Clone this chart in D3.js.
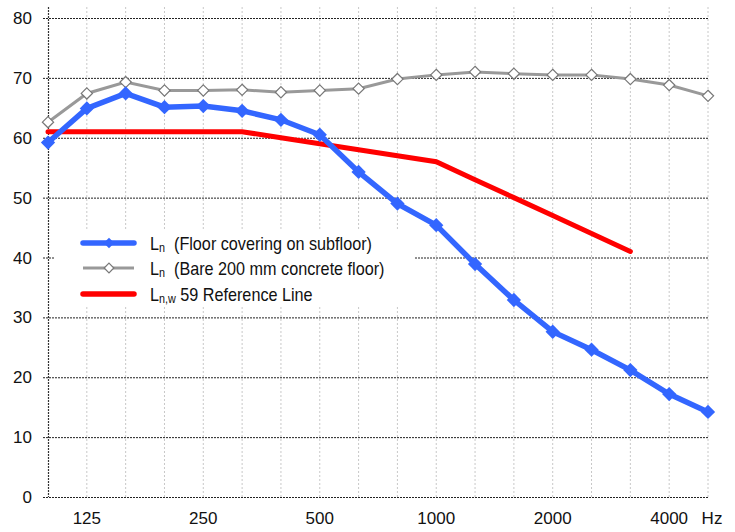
<!DOCTYPE html>
<html>
<head>
	<meta charset="utf-8">
	<title>Impact sound Ln</title>
	<script type="text/javascript" src="https://cdn.jsdelivr.net/npm/d3@7/dist/d3.min.js"></script>
	<style>
		body { margin: 0; background: #fff; }
		text { font-family: "Liberation Sans", Arial, sans-serif; }
	</style>
</head>
<body>
	<script type="text/javascript">
		// 1/3 octave bands
		var bands = [100, 125, 160, 200, 250, 315, 400, 500, 630, 800, 1000, 1250, 1600, 2000, 2500, 3150, 4000, 5000];
		var bandLabels = ["125", "250", "500", "1000", "2000", "4000"];
		var yTicks = [0, 10, 20, 30, 40, 50, 60, 70, 80];
		// Ln floor covering on subfloor
		var lnCovering = [59.2, 64.9, 67.4, 65.1, 65.3, 64.5, 63.0, 60.5, 54.3, 49.0, 45.4, 38.9, 32.9, 27.6, 24.6, 21.2, 17.2, 14.2];
		// Ln bare 200 mm concrete floor
		var lnBare = [62.6, 67.4, 69.3, 67.9, 67.9, 68.0, 67.6, 67.9, 68.2, 69.8, 70.5, 71.0, 70.7, 70.5, 70.5, 69.8, 68.8, 67.0];
		// Ln,w 59 reference curve (100 - 3150 Hz)
		var refBands = [100, 125, 160, 200, 250, 315, 400, 500, 630, 800, 1000, 1250, 1600, 2000, 2500, 3150];
		var refLine = [61, 61, 61, 61, 61, 61, 60, 59, 58, 57, 56, 53, 50, 47, 44, 41];

		var W = 735, H = 532;
		var svg = d3.select("body").append("svg").attr("width", W).attr("height", H);

		var x = d3.scalePoint().domain(bands).range([48, 708]);
		var y = d3.scaleLinear().domain([0, 80]).range([497, 18]);

		// vertical light grid
		svg.append("g").selectAll("line").data(bands.slice(1)).enter().append("line")
			.attr("x1", function(d){ return x(d); }).attr("x2", function(d){ return x(d); })
			.attr("y1", 7).attr("y2", y(0))
			.attr("stroke", "#c8c8c8").attr("stroke-width", 1).attr("stroke-dasharray", "2,2");

		// horizontal grid + y ticks
		svg.append("g").selectAll("line").data(yTicks).enter().append("line")
			.attr("x1", 43).attr("x2", 708)
			.attr("y1", function(d){ return y(d) + 0.5; }).attr("y2", function(d){ return y(d) + 0.5; })
			.attr("stroke", "#222").attr("stroke-width", 1).attr("stroke-dasharray", "2,1");

		// left axis
		svg.append("line").attr("x1", 48.5).attr("x2", 48.5).attr("y1", 7).attr("y2", y(0))
			.attr("stroke", "#333").attr("stroke-width", 1.2).attr("stroke-dasharray", "2,1");

		svg.append("g").selectAll("text").data(yTicks).enter().append("text")
			.attr("x", 32).attr("y", function(d){ return y(d) + 6; })
			.attr("text-anchor", "end").attr("font-size", "17px").attr("fill", "#111")
			.text(function(d){ return d; });

		svg.append("g").selectAll("text").data(bandLabels).enter().append("text")
			.attr("x", function(d){ return x(+d); }).attr("y", 524)
			.attr("text-anchor", "middle").attr("font-size", "17px").attr("fill", "#111")
			.text(function(d){ return d; });
		svg.append("text").attr("x", 712).attr("y", 524).attr("text-anchor", "middle")
			.attr("font-size", "17px").attr("fill", "#111").text("Hz");

		// legend background hides grid
		svg.append("rect").attr("x", 55).attr("y", 229).attr("width", 359).attr("height", 78).attr("fill", "#fff");

		var line = d3.line().x(function(d){ return x(d[0]); }).y(function(d){ return y(d[1]); });

		var bareData = d3.zip(bands, lnBare);
		var covData = d3.zip(bands, lnCovering);
		var refData = d3.zip(refBands, refLine);

		svg.append("path").datum(bareData).attr("d", line)
			.attr("fill", "none").attr("stroke", "#999").attr("stroke-width", 3);
		svg.append("g").selectAll("path").data(bareData).enter().append("path")
			.attr("d", d3.symbol(d3.symbolDiamond2, 80))
			.attr("transform", function(d){ return "translate(" + x(d[0]) + "," + y(d[1]) + ")"; })
			.attr("fill", "#fff").attr("stroke", "#777").attr("stroke-width", 1.2);

		svg.append("path").datum(refData).attr("d", line)
			.attr("fill", "none").attr("stroke", "#ff0000").attr("stroke-width", 5).attr("stroke-linecap", "round");

		svg.append("path").datum(covData).attr("d", line)
			.attr("fill", "none").attr("stroke", "#3366ff").attr("stroke-width", 5.5);
		svg.append("g").selectAll("path").data(covData).enter().append("path")
			.attr("d", d3.symbol(d3.symbolDiamond2, 130))
			.attr("transform", function(d){ return "translate(" + x(d[0]) + "," + y(d[1]) + ")"; })
			.attr("fill", "#3366ff");

		// legend
		var leg = svg.append("g");
		var ly = [243, 268, 294];
		leg.append("line").attr("x1", 83).attr("x2", 134).attr("y1", ly[0]).attr("y2", ly[0])
			.attr("stroke", "#3366ff").attr("stroke-width", 5.5).attr("stroke-linecap", "round");
		leg.append("path").attr("d", d3.symbol(d3.symbolDiamond2, 70))
			.attr("transform", "translate(109," + ly[0] + ")").attr("fill", "#3366ff");
		leg.append("line").attr("x1", 83).attr("x2", 134).attr("y1", ly[1]).attr("y2", ly[1])
			.attr("stroke", "#999").attr("stroke-width", 3);
		leg.append("path").attr("d", d3.symbol(d3.symbolDiamond2, 60))
			.attr("transform", "translate(109," + ly[1] + ")").attr("fill", "#fff").attr("stroke", "#777").attr("stroke-width", 1.2);
		leg.append("line").attr("x1", 83).attr("x2", 134).attr("y1", ly[2]).attr("y2", ly[2])
			.attr("stroke", "#ff0000").attr("stroke-width", 5.5).attr("stroke-linecap", "round");

		var legText = [["n", "  (Floor covering on subfloor)"], ["n", "  (Bare 200 mm concrete floor)"], ["n,w", " 59 Reference Line"]];
		legText.forEach(function(t, i){
			var tx = leg.append("text").attr("transform", "translate(150," + (ly[i] + 6.5) + ") scale(0.9,1)")
				.attr("font-size", "18px").attr("fill", "#111")
				.attr("xml:space", "preserve").style("white-space", "pre");
			tx.append("tspan").text("L");
			tx.append("tspan").attr("font-size", "12px").attr("dy", 2).text(t[0]);
			tx.append("tspan").attr("dy", -2).text(t[1]);
		});
	</script>
</body>
</html>
